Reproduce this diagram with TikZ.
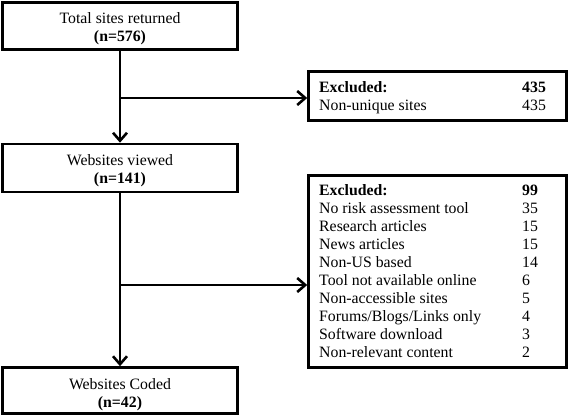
\documentclass[tikz,border=0pt]{standalone}
\usepackage{fontspec}
\setmainfont{Liberation Serif}
\usetikzlibrary{arrows.meta}
\begin{document}
\begin{tikzpicture}[x=1pt,y=-1pt,
  box/.style={draw=black,line width=2.6pt,inner sep=0pt},
  txt/.style={inner sep=0pt,font=\fontsize{15.8}{18}\selectfont},
  arr/.style={line width=2.6pt,-{Straight Barb[length=8pt,width=14pt,line width=2.6pt]}}]
\useasboundingbox (0,0) rectangle (570,416);
% left boxes
\node[box,minimum width=235pt,minimum height=47pt] (b1) at (120,26) {};
\node[box,minimum width=235pt,minimum height=48pt] (b2) at (120,168) {};
\node[box,minimum width=235pt,minimum height=46pt] (b4) at (120,390.5) {};
% excluded boxes
\node[box,minimum width=258pt,minimum height=49pt] (e1) at (437.5,96) {};
\node[box,minimum width=258pt,minimum height=192pt] (e2) at (437.5,271.5) {};
% left texts
\node[txt,anchor=base] (t1a) at (120,23) {Total sites returned};
\node[txt,anchor=base] (t1b) at (120,41) {\textbf{(n=576)}};
\node[txt,anchor=base] (t2a) at (120,165) {Websites viewed};
\node[txt,anchor=base] (t2b) at (120,183) {\textbf{(n=141)}};
\node[txt,anchor=base] (t4a) at (120,389) {Websites Coded};
\node[txt,anchor=base] (t4b) at (120,407) {\textbf{(n=42)}};
% excluded 1 texts
\node[txt,anchor=base west] (x1a) at (319,92) {\textbf{Excluded:}};
\node[txt,anchor=base west] (x1b) at (522,92) {\textbf{435}};
\node[txt,anchor=base west] (x1c) at (319,110) {Non-unique sites};
\node[txt,anchor=base west] (x1d) at (522,110) {435};
% excluded 2 texts
\foreach \lab/\num [count=\i from 0] in {
  {\textbf{Excluded:}}/{\textbf{99}},
  {No risk assessment tool}/35,
  {Research articles}/15,
  {News articles}/15,
  {Non-US based}/14,
  {Tool not available online}/6,
  {Non-accessible sites}/5,
  {Forums/Blogs/Links only}/4,
  {Software download}/3,
  {Non-relevant content}/2}{
  \node[txt,anchor=base west] (r\i) at (319,{195+18.1*\i}) {\lab};
  \node[txt,anchor=base west] (n\i) at (522,{195+18.1*\i}) {\num};
}
% connectors
\coordinate (j1) at (120,98);
\coordinate (j2) at (120,285);
\draw[arr] (b1.south) -- (b2.north);
\draw[arr] (b2.south) -- (b4.north);
\draw[arr] (j1) -- (j1 -| e1.west);
\draw[arr] (j2) -- (j2 -| e2.west);
\end{tikzpicture}
\end{document}
